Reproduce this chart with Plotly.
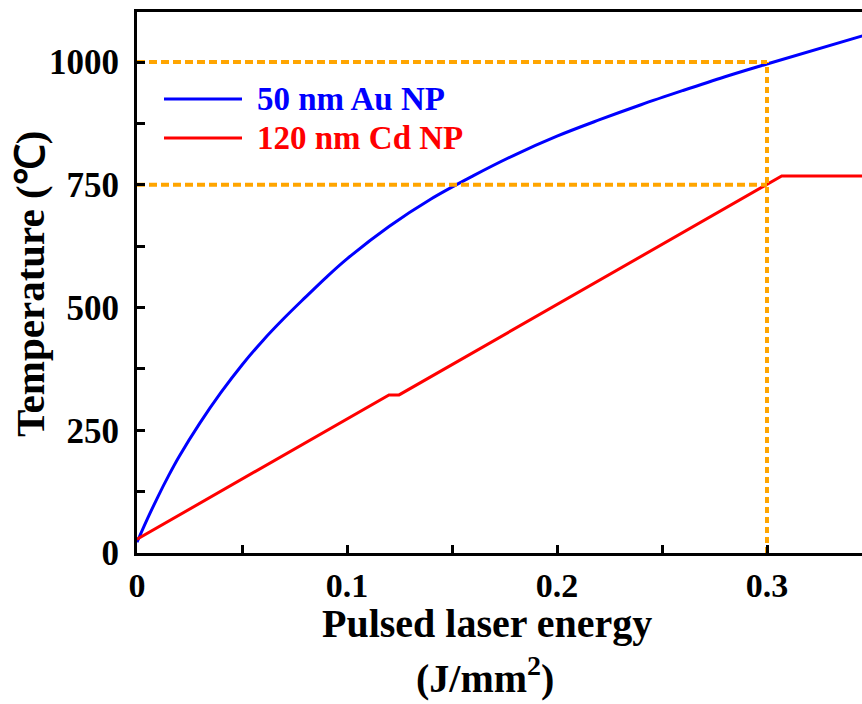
import plotly.graph_objects as go

# Data
au_x = [0, 0.005, 0.01, 0.015, 0.02, 0.03, 0.04, 0.05, 0.06, 0.07, 0.08, 0.09, 0.1,
        0.12, 0.14, 0.16, 0.18, 0.2, 0.22, 0.24, 0.26, 0.28, 0.3, 0.346]
au_y = [22, 70, 115, 157, 196, 265, 327, 383, 433, 478, 520, 561, 599,
        665, 721, 768, 811, 849, 882, 913, 942, 970, 996, 1054]

cd_x = [0, 0.120, 0.1248, 0.3, 0.307, 0.346]
cd_y = [28, 322, 322, 750, 768, 768]

guide_x = 0.3
guide_y = [1000, 750]

series_names = ["50 nm Au NP", "120 nm Cd NP"]
series_colors = ["#0000FF", "#FF0000"]

FONT = "Liberation Serif"
ORANGE = "#FFA500"

fig = go.Figure()
fig.add_trace(go.Scatter(x=au_x, y=au_y, mode="lines", line=dict(color=series_colors[0], width=3, shape="spline", smoothing=1),
                         name=series_names[0], showlegend=False))
fig.add_trace(go.Scatter(x=cd_x, y=cd_y, mode="lines", line=dict(color=series_colors[1], width=3),
                         name=series_names[1], showlegend=False))
for gy in guide_y:
    fig.add_trace(go.Scatter(x=[0, guide_x], y=[gy, gy], mode="lines",
                             line=dict(color=ORANGE, width=4, dash="8px,4px"), showlegend=False, hoverinfo="skip"))
fig.add_trace(go.Scatter(x=[guide_x, guide_x], y=[0, max(guide_y)], mode="lines",
                         line=dict(color=ORANGE, width=4, dash="6px,4px"), showlegend=False, hoverinfo="skip"))

W, H = 862, 704
L, R, T, B = 137, 0, 12, 151
pw, ph = W - L - R, H - T - B

def px_x(p):
    return (p - L) / pw

def px_y(p):
    return (H - B - p) / ph

# manual legend
for i, (name, col) in enumerate(zip(series_names, series_colors)):
    yy = [99, 138][i]
    fig.add_shape(type="line", xref="paper", yref="paper", x0=px_x(164), x1=px_x(242),
                  y0=px_y(yy), y1=px_y(yy), line=dict(color=col, width=3))
    fig.add_annotation(xref="paper", yref="paper", x=px_x(255), y=px_y(yy), xanchor="left", yanchor="middle",
                       text="<b>%s</b>" % name, showarrow=False,
                       font=dict(family=FONT, size=33, color=col))

# axis titles
fig.add_annotation(xref="paper", yref="paper", x=px_x(487), y=px_y(623), xanchor="center", yanchor="middle",
                   text="<b>Pulsed laser energy</b>", showarrow=False, borderpad=0,
                   font=dict(family=FONT, size=40, color="black"))
fig.add_annotation(xref="paper", yref="paper", x=px_x(485), y=px_y(675), xanchor="center", yanchor="middle",
                   text="<b>(J/mm<sup>2</sup>)</b>", showarrow=False, borderpad=0,
                   font=dict(family=FONT, size=40, color="black"))
fig.add_annotation(xref="paper", yref="paper", x=px_x(30), y=px_y(284), xanchor="center", yanchor="middle",
                   text="<b>Temperature (℃)</b>", textangle=-90, showarrow=False,
                   font=dict(family=FONT, size=41, color="black"))

fig.update_xaxes(range=[0, pw / 2100.0], tickvals=[0, 0.1, 0.2, 0.3], ticktext=["0", "0.1", "0.2", "0.3"],
                 ticks="inside", ticklen=8, tickwidth=3, tickcolor="black",
                 minor=dict(dtick=0.05, ticks="inside", ticklen=8, tickwidth=3, tickcolor="black", showgrid=False),
                 showline=True, linewidth=3, linecolor="black", mirror=True, showgrid=False, zeroline=False,
                 tickfont=dict(family=FONT, size=34, color="black", weight="bold"), ticklabelstandoff=0)
fig.update_yaxes(range=[0, ph / 0.491], tickvals=[0, 250, 500, 750, 1000],
                 ticks="inside", ticklen=8, tickwidth=3, tickcolor="black",
                 minor=dict(dtick=125, ticks="inside", ticklen=8, tickwidth=3, tickcolor="black", showgrid=False),
                 showline=True, linewidth=3, linecolor="black", mirror=False, showgrid=False, zeroline=False,
                 tickfont=dict(family=FONT, size=35, color="black", weight="bold"), ticklabelstandoff=8)

fig.update_layout(width=W, height=H, margin=dict(l=L, r=R, t=T, b=B, pad=0),
                  plot_bgcolor="white", paper_bgcolor="white", showlegend=False)

fig.write_html("out.html")
